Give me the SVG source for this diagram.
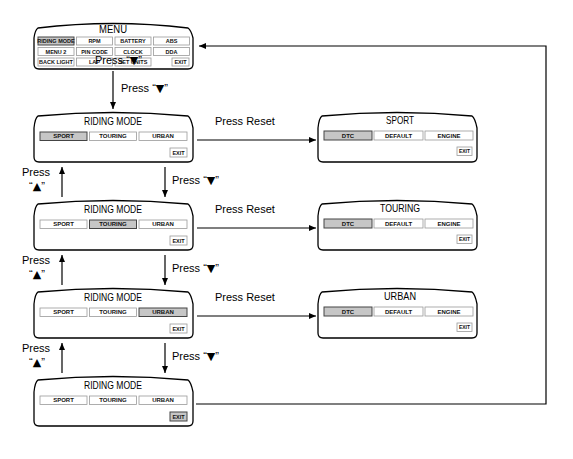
<svg xmlns="http://www.w3.org/2000/svg" xmlns:xlink="http://www.w3.org/1999/xlink" width="573" height="459" viewBox="0 0 573 459">
<style>
.bg{fill:#fff}
.scr{fill:#fff;stroke:#000;stroke-width:1.3}
.cell{fill:#fff;stroke:#9a9a9a;stroke-width:0.8}
.sel{fill:#c6c6c6;stroke:#444;stroke-width:1}
.ct{font-family:"Liberation Sans","DejaVu Sans",sans-serif;font-size:6px;font-weight:bold;text-anchor:middle;fill:#111}
.mt{font-family:"Liberation Sans","DejaVu Sans",sans-serif;font-size:5.5px;font-weight:bold;text-anchor:middle;fill:#111}
.ttl{font-family:"Liberation Sans","DejaVu Sans",sans-serif;font-size:10.5px;text-anchor:middle;fill:#000}
.lbl{font-family:"Liberation Sans","DejaVu Sans",sans-serif;font-size:11px;fill:#000}
.tri{font-family:"DejaVu Sans",sans-serif;font-size:11px}
.con{stroke:#000;stroke-width:1.2;fill:none}
</style>
<defs>
<marker id="ah" markerUnits="userSpaceOnUse" markerWidth="8" markerHeight="8" refX="7" refY="4" orient="auto">
<path d="M0,1 L7,4 L0,7 Z" fill="#000"/>
</marker>
<path id="scrn" d="M4,0 Q79,-7 154,0 Q157,2 159,12 L159,41 Q159,46 154,46 L5,46 Q0,46 0,41 L0,12 Q1,2 4,0 Z"/>
<path id="scrm" d="M4,0 Q79,-9 154,0 Q157,2 159,10 L159,36 Q159,41 154,41 L5,41 Q0,41 0,36 L0,10 Q1,2 4,0 Z"/>
</defs>
<rect class="bg" x="0" y="0" width="573" height="459"/>

<g id="connectors">
<line class="con" x1="113" y1="71" x2="113" y2="109" marker-end="url(#ah)"/>
<line class="con" x1="197" y1="140" x2="316" y2="140" marker-end="url(#ah)"/>
<line class="con" x1="197" y1="228" x2="316" y2="228" marker-end="url(#ah)"/>
<line class="con" x1="197" y1="316" x2="316" y2="316" marker-end="url(#ah)"/>
<line class="con" x1="165" y1="167" x2="165" y2="197" marker-end="url(#ah)"/>
<line class="con" x1="165" y1="255" x2="165" y2="285" marker-end="url(#ah)"/>
<line class="con" x1="165" y1="343" x2="165" y2="373" marker-end="url(#ah)"/>
<line class="con" x1="62" y1="197" x2="62" y2="167" marker-end="url(#ah)"/>
<line class="con" x1="62" y1="285" x2="62" y2="255" marker-end="url(#ah)"/>
<line class="con" x1="62" y1="373" x2="62" y2="343" marker-end="url(#ah)"/>
<polyline class="con" points="196,404 546,404 546,46 199,46" marker-end="url(#ah)"/>
<text class="lbl" x="121" y="92">Press “<tspan class="tri">▼</tspan>”</text>
<text class="lbl" x="215" y="125">Press Reset</text>
<text class="lbl" x="215" y="213">Press Reset</text>
<text class="lbl" x="215" y="301">Press Reset</text>
<text class="lbl" x="172" y="184">Press “<tspan class="tri">▼</tspan>”</text>
<text class="lbl" x="172" y="272">Press “<tspan class="tri">▼</tspan>”</text>
<text class="lbl" x="172" y="360">Press “<tspan class="tri">▼</tspan>”</text>
<text class="lbl" x="22" y="176">Press</text>
<text class="lbl" x="29" y="190">“<tspan class="tri">▲</tspan>”</text>
<text class="lbl" x="22" y="264">Press</text>
<text class="lbl" x="29" y="278">“<tspan class="tri">▲</tspan>”</text>
<text class="lbl" x="22" y="352">Press</text>
<text class="lbl" x="29" y="366">“<tspan class="tri">▲</tspan>”</text>
</g>

<g id="menu" transform="translate(34,28)">
<use xlink:href="#scrm" class="scr"/>
<text class="ttl" x="79" y="5" textLength="28" lengthAdjust="spacingAndGlyphs">MENU</text>
<rect class="sel" x="4" y="9" width="36" height="8"/>
<rect class="cell" x="42.5" y="9" width="36" height="8"/>
<rect class="cell" x="81" y="9" width="36" height="8"/>
<rect class="cell" x="119.5" y="9" width="36" height="8"/>
<rect class="cell" x="4" y="19.5" width="36" height="8"/>
<rect class="cell" x="42.5" y="19.5" width="36" height="8"/>
<rect class="cell" x="81" y="19.5" width="36" height="8"/>
<rect class="cell" x="119.5" y="19.5" width="36" height="8"/>
<rect class="cell" x="4" y="30" width="36" height="8"/>
<rect class="cell" x="42.5" y="30" width="36" height="8"/>
<rect class="cell" x="81" y="30" width="36" height="8"/>
<rect class="cell" x="138" y="30" width="17" height="8"/>
<text class="mt" x="22" y="15">RIDING MODE</text>
<text class="mt" x="60.5" y="15">RPM</text>
<text class="mt" x="99" y="15">BATTERY</text>
<text class="mt" x="137.5" y="15">ABS</text>
<text class="mt" x="22" y="25.5">MENU 2</text>
<text class="mt" x="60.5" y="25.5">PIN CODE</text>
<text class="mt" x="99" y="25.5">CLOCK</text>
<text class="mt" x="137.5" y="25.5">DDA</text>
<text class="mt" x="22" y="36">BACK LIGHT</text>
<text class="mt" x="60.5" y="36">LAP</text>
<text class="mt" x="99" y="36">SET UNITS</text>
<text class="mt" x="146.5" y="36">EXIT</text>
</g>

<g id="menu-overlay-label">
<text class="lbl" x="95" y="64">Press “<tspan class="tri">▼</tspan>”</text>
</g>

<g id="riding-sport" transform="translate(34,116)">
<use xlink:href="#scrn" class="scr"/>
<text class="ttl" x="79" y="9" textLength="58" lengthAdjust="spacingAndGlyphs">RIDING MODE</text>
<rect class="sel" x="6" y="16" width="47" height="8.5"/>
<rect class="cell" x="55.5" y="16" width="47" height="8.5"/>
<rect class="cell" x="105" y="16" width="48" height="8.5"/>
<rect class="cell" x="136" y="32" width="17" height="9"/>
<text class="ct" x="29.5" y="22.4">SPORT</text>
<text class="ct" x="79" y="22.4">TOURING</text>
<text class="ct" x="129" y="22.4">URBAN</text>
<text class="ct" x="144.5" y="38.6" style="font-size:5.5px">EXIT</text>
</g>

<g id="riding-touring" transform="translate(34,204)">
<use xlink:href="#scrn" class="scr"/>
<text class="ttl" x="79" y="9" textLength="58" lengthAdjust="spacingAndGlyphs">RIDING MODE</text>
<rect class="cell" x="6" y="16" width="47" height="8.5"/>
<rect class="sel" x="55.5" y="16" width="47" height="8.5"/>
<rect class="cell" x="105" y="16" width="48" height="8.5"/>
<rect class="cell" x="136" y="32" width="17" height="9"/>
<text class="ct" x="29.5" y="22.4">SPORT</text>
<text class="ct" x="79" y="22.4">TOURING</text>
<text class="ct" x="129" y="22.4">URBAN</text>
<text class="ct" x="144.5" y="38.6" style="font-size:5.5px">EXIT</text>
</g>

<g id="riding-urban" transform="translate(34,292)">
<use xlink:href="#scrn" class="scr"/>
<text class="ttl" x="79" y="9" textLength="58" lengthAdjust="spacingAndGlyphs">RIDING MODE</text>
<rect class="cell" x="6" y="16" width="47" height="8.5"/>
<rect class="cell" x="55.5" y="16" width="47" height="8.5"/>
<rect class="sel" x="105" y="16" width="48" height="8.5"/>
<rect class="cell" x="136" y="32" width="17" height="9"/>
<text class="ct" x="29.5" y="22.4">SPORT</text>
<text class="ct" x="79" y="22.4">TOURING</text>
<text class="ct" x="129" y="22.4">URBAN</text>
<text class="ct" x="144.5" y="38.6" style="font-size:5.5px">EXIT</text>
</g>

<g id="riding-exit" transform="translate(34,380)">
<use xlink:href="#scrn" class="scr"/>
<text class="ttl" x="79" y="9" textLength="58" lengthAdjust="spacingAndGlyphs">RIDING MODE</text>
<rect class="cell" x="6" y="16" width="47" height="8.5"/>
<rect class="cell" x="55.5" y="16" width="47" height="8.5"/>
<rect class="cell" x="105" y="16" width="48" height="8.5"/>
<rect class="sel" x="136" y="32" width="17" height="9"/>
<text class="ct" x="29.5" y="22.4">SPORT</text>
<text class="ct" x="79" y="22.4">TOURING</text>
<text class="ct" x="129" y="22.4">URBAN</text>
<text class="ct" x="144.5" y="38.6" style="font-size:5.5px">EXIT</text>
</g>

<g id="sport" transform="translate(318,116)">
<use xlink:href="#scrn" class="scr"/>
<text class="ttl" x="82" y="8" textLength="28" lengthAdjust="spacingAndGlyphs">SPORT</text>
<rect class="sel" x="6" y="15" width="48" height="9"/>
<rect class="cell" x="56" y="15" width="49" height="9"/>
<rect class="cell" x="107" y="15" width="48" height="9"/>
<rect class="cell" x="139" y="31" width="15" height="8.5"/>
<text class="ct" x="30" y="21.6">DTC</text>
<text class="ct" x="80.5" y="21.6">DEFAULT</text>
<text class="ct" x="131" y="21.6">ENGINE</text>
<text class="ct" x="146.5" y="37.4" style="font-size:5px">EXIT</text>
</g>

<g id="touring" transform="translate(318,204)">
<use xlink:href="#scrn" class="scr"/>
<text class="ttl" x="82" y="8" textLength="40" lengthAdjust="spacingAndGlyphs">TOURING</text>
<rect class="sel" x="6" y="15" width="48" height="9"/>
<rect class="cell" x="56" y="15" width="49" height="9"/>
<rect class="cell" x="107" y="15" width="48" height="9"/>
<rect class="cell" x="139" y="31" width="15" height="8.5"/>
<text class="ct" x="30" y="21.6">DTC</text>
<text class="ct" x="80.5" y="21.6">DEFAULT</text>
<text class="ct" x="131" y="21.6">ENGINE</text>
<text class="ct" x="146.5" y="37.4" style="font-size:5px">EXIT</text>
</g>

<g id="urban" transform="translate(318,292)">
<use xlink:href="#scrn" class="scr"/>
<text class="ttl" x="82" y="8" textLength="32" lengthAdjust="spacingAndGlyphs">URBAN</text>
<rect class="sel" x="6" y="15" width="48" height="9"/>
<rect class="cell" x="56" y="15" width="49" height="9"/>
<rect class="cell" x="107" y="15" width="48" height="9"/>
<rect class="cell" x="139" y="31" width="15" height="8.5"/>
<text class="ct" x="30" y="21.6">DTC</text>
<text class="ct" x="80.5" y="21.6">DEFAULT</text>
<text class="ct" x="131" y="21.6">ENGINE</text>
<text class="ct" x="146.5" y="37.4" style="font-size:5px">EXIT</text>
</g>
</svg>
